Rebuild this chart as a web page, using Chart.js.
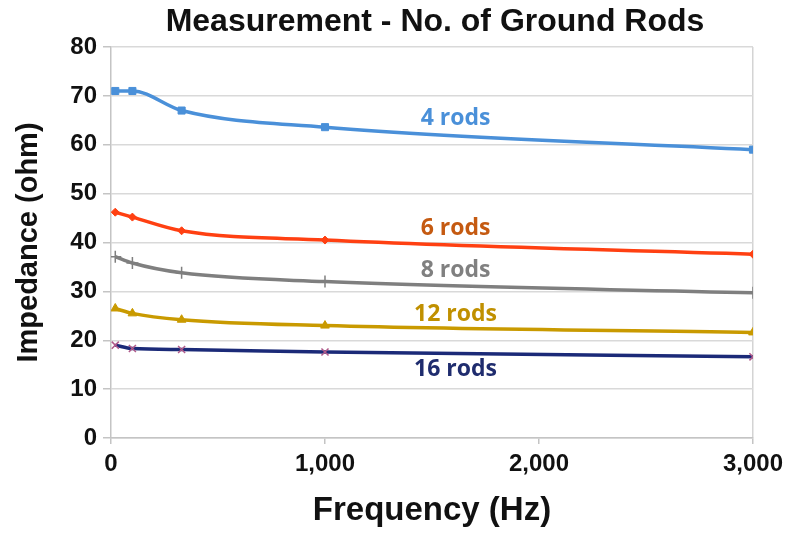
<!DOCTYPE html>
<html>
<head>
<meta charset="utf-8">
<script src="https://cdn.jsdelivr.net/npm/chart.js@4/dist/chart.umd.min.js"></script>
<style>
  html, body { margin: 0; padding: 0; background: #fff; }
  #wrap { width: 789px; height: 533px; }
</style>
</head>
<body>
<div id="wrap"><canvas id="rodsChart" width="789" height="533"></canvas></div>
<script>
// frequency of each measurement (Hz)
const frequencies = [20, 100, 330, 1000, 3000];

// measured impedance (ohm) per number of ground rods
const rods4 = [71.0, 71.0, 67.0, 63.6, 59.0];
const rods6 = [46.2, 45.2, 42.4, 40.5, 37.6];
const rods8 = [37.1, 35.8, 33.8, 32.0, 29.7];
const rods12 = [26.5, 25.5, 24.2, 23.0, 21.6];
const rods16 = [19.0, 18.3, 18.1, 17.6, 16.6];

const seriesNames = ['4 rods', '6 rods', '8 rods', '12 rods', '16 rods'];
// where each in-plot series label sits (data units)
const labelFreq = [1610, 1610, 1610, 1610, 1610];
const labelOhm = [65.4, 42.8, 34.2, 25.2, 14.1];

const xTicks = [0, 1000, 2000, 3000];

const ctx = document.getElementById('rodsChart').getContext('2d');

const toPoints = vals => vals.map((v, i) => ({ x: frequencies[i], y: v }));

const labelColors = ['#4a90d9', '#c55a11', '#808080', '#c09000', '#1f2c6e'];

const seriesLabels = {
    id: 'seriesLabels',
    afterDatasetsDraw(chart) {
        const c = chart.ctx;
        const xs = chart.scales.x, ys = chart.scales.y;
        c.save();
        c.font = 'bold 23px "Open Sans", sans-serif';
        c.textAlign = 'center';
        c.textBaseline = 'middle';
        seriesNames.forEach((name, i) => {
            c.fillStyle = labelColors[i];
            c.fillText(name, xs.getPixelForValue(labelFreq[i]), ys.getPixelForValue(labelOhm[i]));
        });
        // main title, centred over the plot area
        c.font = 'bold 32px "Liberation Sans", Arial, sans-serif';
        c.fillStyle = '#111';
        const a = chart.chartArea;
        c.fillText('Measurement - No. of Ground Rods', (a.left + a.right) / 2 + 3, 22);
        c.restore();
    }
};

new Chart(ctx, {
    type: 'line',
    data: {
        datasets: [{
            label: '4 rods',
            data: toPoints(rods4),
            borderColor: '#4a90d9',
            backgroundColor: '#4a90d9',
            pointStyle: 'rect',
            pointRadius: 5
        }, {
            label: '6 rods',
            data: toPoints(rods6),
            borderColor: '#ff4012',
            backgroundColor: '#ff4012',
            pointStyle: 'rectRot',
            pointRadius: 4
        }, {
            label: '8 rods',
            data: toPoints(rods8),
            borderColor: '#7f7f7f',
            backgroundColor: '#7f7f7f',
            pointStyle: 'cross',
            pointRadius: 6,
            pointBorderWidth: 1.5
        }, {
            label: '12 rods',
            data: toPoints(rods12),
            borderColor: '#c99a00',
            backgroundColor: '#c99a00',
            pointStyle: 'triangle',
            pointRadius: 5
        }, {
            label: '16 rods',
            data: toPoints(rods16),
            borderColor: '#1b2a78',
            backgroundColor: '#1b2a78',
            pointBorderColor: '#b05a8a',
            pointStyle: 'crossRot',
            pointRadius: 5,
            pointBorderWidth: 1.5
        }]
    },
    options: {
        responsive: false,
        animation: false,
        layout: { padding: { top: 47, right: 35, left: 0, bottom: 0 } },
        elements: {
            line: { borderWidth: 3.5, cubicInterpolationMode: 'monotone' },
            point: { borderWidth: 1 }
        },
        plugins: {
            legend: { display: false },
            tooltip: { enabled: false },
            title: { display: false }
        },
        scales: {
            x: {
                type: 'linear',
                min: 0,
                max: 3000,
                afterBuildTicks: axis => { axis.ticks = xTicks.map(v => ({ value: v })); },
                afterFit: axis => { axis.height = 95; },
                ticks: {
                    color: '#111',
                    padding: 6,
                    font: { family: '"Liberation Sans", Arial, sans-serif', size: 24, weight: 'bold' },
                    callback: v => v.toLocaleString('en-US')
                },
                grid: {
                    color: c => (c.tick && c.tick.value === 3000) ? '#d4d4d4' : 'transparent',
                    tickColor: '#c4c4c4',
                    tickLength: 6,
                    lineWidth: 1.5
                },
                border: { color: '#c4c4c4', width: 1.5 },
                title: {
                    display: true,
                    text: 'Frequency (Hz)',
                    color: '#111',
                    padding: { top: 0, bottom: 2 },
                    font: { family: '"Liberation Sans", Arial, sans-serif', size: 33, weight: 'bold' }
                }
            },
            y: {
                min: 0,
                max: 80,
                afterFit: axis => { axis.width = 111; },
                ticks: {
                    stepSize: 10,
                    color: '#111',
                    padding: 6,
                    font: { family: '"Liberation Sans", Arial, sans-serif', size: 24, weight: 'bold' }
                },
                grid: {
                    color: '#d9d9d9',
                    tickColor: '#c4c4c4',
                    tickLength: 8,
                    lineWidth: 1.5
                },
                border: { color: '#c4c4c4', width: 1.5 },
                title: {
                    display: true,
                    text: 'Impedance (ohm)',
                    color: '#111',
                    padding: { top: 12, bottom: 0 },
                    font: { family: '"Liberation Sans", Arial, sans-serif', size: 29, weight: 'bold' }
                }
            }
        }
    },
    plugins: [seriesLabels]
});
</script>
</body>
</html>
